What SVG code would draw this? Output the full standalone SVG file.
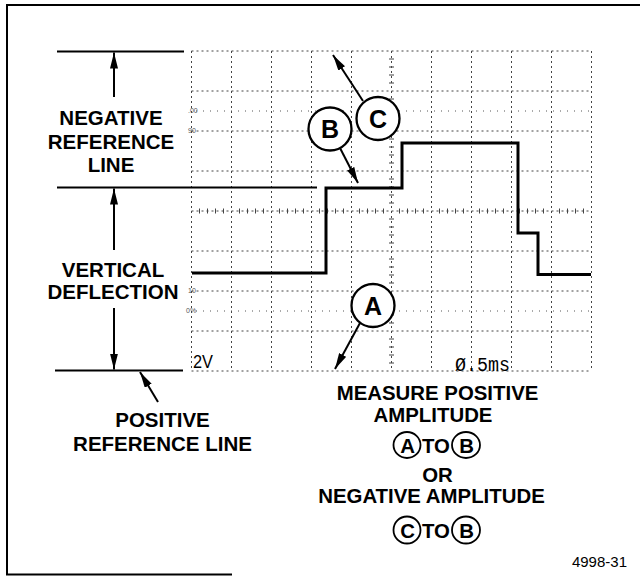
<svg xmlns="http://www.w3.org/2000/svg" width="640" height="576" viewBox="0 0 640 576">
<style>
.lbl{font-family:"Liberation Sans",Arial,sans-serif;font-weight:bold;font-size:20.5px;fill:#000;text-anchor:middle}
.rt{font-family:"Liberation Sans",Arial,sans-serif;font-weight:bold;font-size:20.4px;fill:#000;text-anchor:middle}
.cl{font-family:"Liberation Sans",Arial,sans-serif;font-weight:bold;font-size:25px;fill:#000;text-anchor:middle}
.grid{stroke:#444;stroke-width:1;stroke-dasharray:2 3;fill:none}
.minor{stroke:#555;stroke-width:1;stroke-dasharray:1 6;fill:none}
.ref{stroke:#000;stroke-width:2;fill:none}
.circ{fill:#fff;stroke:#000;stroke-width:2.3}
.sc{fill:none;stroke:#000;stroke-width:1.8}
.tiny{font-family:"Liberation Sans",Arial,sans-serif;font-size:7px;fill:#555}
.conn{stroke:#000;stroke-width:2;fill:none;marker-end:url(#ah)}
</style>
<defs>
<marker id="ah" viewBox="0 0 16 8" refX="16" refY="4" markerWidth="16" markerHeight="8" orient="auto" markerUnits="userSpaceOnUse">
<path d="M0,0 L16,4 L0,8 Z" fill="#000"/>
</marker>
</defs>
<rect width="640" height="576" fill="#fff"/>
<g id="frame" stroke="#000" stroke-width="2" fill="none">
<path d="M640,5 L7,5 L7,574.5 L232,574.5"/>
</g>
<g id="graticule">
<path class="grid" d="M191.5,51 V371 M231.5,51 V371 M271.5,51 V371 M311.5,51 V371 M351.5,51 V371 M391.5,51 V371 M431.5,51 V371 M471.5,51 V371 M511.5,51 V371 M551.5,51 V371 M591.5,51 V371"/>
<path class="grid" d="M191.5,51 H591.5 M191.5,91 H591.5 M191.5,131 H591.5 M191.5,171 H591.5 M191.5,211 H591.5 M191.5,251 H591.5 M191.5,291 H591.5 M191.5,331 H591.5 M191.5,371 H591.5"/>
<path class="minor" d="M196,111 H591 M196,311 H591"/>
<path stroke="#444" stroke-width="1" d="M389,59 H394 M389,67 H394 M389,75 H394 M389,83 H394 M389,99 H394 M389,107 H394 M389,115 H394 M389,123 H394 M389,139 H394 M389,147 H394 M389,155 H394 M389,163 H394 M389,179 H394 M389,187 H394 M389,195 H394 M389,203 H394 M389,219 H394 M389,227 H394 M389,235 H394 M389,243 H394 M389,259 H394 M389,267 H394 M389,275 H394 M389,283 H394 M389,299 H394 M389,307 H394 M389,315 H394 M389,323 H394 M389,339 H394 M389,347 H394 M389,355 H394 M389,363 H394"/>
<path stroke="#444" stroke-width="1" d="M199.5,208.5 V213.5 M207.5,208.5 V213.5 M215.5,208.5 V213.5 M223.5,208.5 V213.5 M239.5,208.5 V213.5 M247.5,208.5 V213.5 M255.5,208.5 V213.5 M263.5,208.5 V213.5 M279.5,208.5 V213.5 M287.5,208.5 V213.5 M295.5,208.5 V213.5 M303.5,208.5 V213.5 M319.5,208.5 V213.5 M327.5,208.5 V213.5 M335.5,208.5 V213.5 M343.5,208.5 V213.5 M359.5,208.5 V213.5 M367.5,208.5 V213.5 M375.5,208.5 V213.5 M383.5,208.5 V213.5 M399.5,208.5 V213.5 M407.5,208.5 V213.5 M415.5,208.5 V213.5 M423.5,208.5 V213.5 M439.5,208.5 V213.5 M447.5,208.5 V213.5 M455.5,208.5 V213.5 M463.5,208.5 V213.5 M479.5,208.5 V213.5 M487.5,208.5 V213.5 M495.5,208.5 V213.5 M503.5,208.5 V213.5 M519.5,208.5 V213.5 M527.5,208.5 V213.5 M535.5,208.5 V213.5 M543.5,208.5 V213.5 M559.5,208.5 V213.5 M567.5,208.5 V213.5 M575.5,208.5 V213.5 M583.5,208.5 V213.5"/>
<text class="tiny" x="188" y="113">.00</text>
<text class="tiny" x="188" y="133">90</text>
<text class="tiny" x="188" y="293">10</text>
<text class="tiny" x="186" y="313">0%</text>
<text x="193" y="368" font-family="Liberation Sans, Arial, sans-serif" font-size="19" textLength="20" lengthAdjust="spacingAndGlyphs">2V</text>
<text x="455" y="371" font-family="Liberation Mono, Courier New, monospace" font-size="20" textLength="55" lengthAdjust="spacingAndGlyphs">Ø.5ms</text>
</g>
<g id="trace">
<polyline points="192,273 326,273 326,188 402,188 402,143 518,143 518,233 538,233 538,274.5 591,274.5" fill="none" stroke="#000" stroke-width="3"/>
</g>
<g id="reference-lines">
<line class="ref" x1="57" y1="51.5" x2="184" y2="51.5"/>
<line class="ref" x1="57" y1="187.5" x2="317" y2="187.5"/>
<line class="ref" x1="55" y1="370.5" x2="183" y2="370.5"/>
</g>
<g id="connectors">
<line class="conn" x1="114" y1="97" x2="114" y2="52.5"/>
<line class="conn" x1="114" y1="250" x2="114" y2="188.5"/>
<line class="conn" x1="114" y1="308" x2="114" y2="369.5"/>
<line class="conn" x1="158" y1="402" x2="140" y2="372"/>
<line class="conn" x1="340" y1="148" x2="358" y2="183"/>
<line class="conn" x1="363" y1="101" x2="333" y2="55"/>
<line class="conn" x1="360" y1="323" x2="335" y2="369"/>
</g>
<g id="label-negative">
<text class="lbl" x="111" y="125">NEGATIVE</text>
<text class="lbl" x="111" y="149">REFERENCE</text>
<text class="lbl" x="111" y="172">LINE</text>
</g>
<g id="label-vertical">
<text class="lbl" x="113" y="277">VERTICAL</text>
<text class="lbl" x="113" y="299">DEFLECTION</text>
</g>
<g id="label-positive">
<text class="lbl" x="162.5" y="427">POSITIVE</text>
<text class="lbl" x="162.5" y="451">REFERENCE LINE</text>
</g>
<g id="callout-B">
<circle class="circ" cx="330" cy="129" r="21.5"/>
<text class="cl" x="330" y="138">B</text>
</g>
<g id="callout-C">
<circle class="circ" cx="378" cy="118.5" r="21.5"/>
<text class="cl" x="378" y="127.5">C</text>
</g>
<g id="callout-A">
<circle class="circ" cx="373" cy="305.5" r="21.5"/>
<text class="cl" x="373" y="314.5">A</text>
</g>
<g id="instructions">
<text class="rt" x="437.5" y="400">MEASURE POSITIVE</text>
<text class="rt" x="433" y="422">AMPLITUDE</text>
<ellipse class="sc" cx="407" cy="445" rx="13.5" ry="13"/>
<text class="rt" x="407.5" y="452.5">A</text>
<text class="rt" x="436" y="452.5">TO</text>
<ellipse class="sc" cx="466" cy="445" rx="14" ry="13"/>
<text class="rt" x="466.5" y="452.5">B</text>
<text class="rt" x="437.5" y="482">OR</text>
<text class="rt" x="431.5" y="503">NEGATIVE AMPLITUDE</text>
<ellipse class="sc" cx="407" cy="530" rx="13.5" ry="13.5"/>
<text class="rt" x="407.5" y="537.5">C</text>
<text class="rt" x="436" y="537.5">TO</text>
<ellipse class="sc" cx="466" cy="530" rx="14" ry="13.5"/>
<text class="rt" x="466.5" y="537.5">B</text>
</g>
<g id="figure-number">
<text x="627" y="567" font-family="Liberation Sans, Arial, sans-serif" font-size="15" text-anchor="end">4998-31</text>
</g>
</svg>
